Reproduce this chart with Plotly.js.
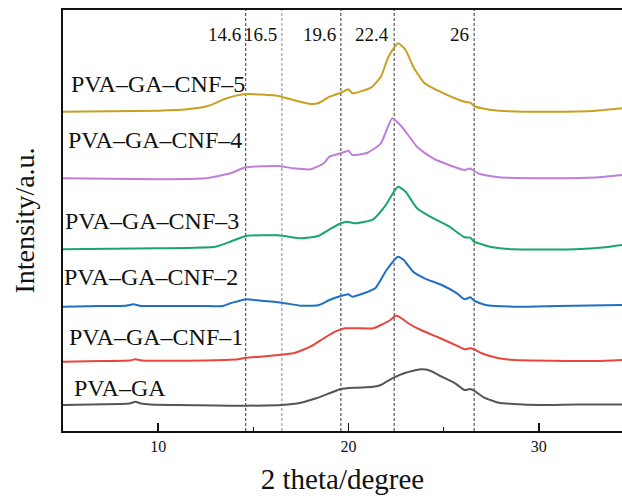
<!DOCTYPE html>
<html>
<head>
<meta charset="utf-8">
<script src="https://cdn.plot.ly/plotly-3.0.1.min.js"></script>
<style>html,body{margin:0;padding:0;background:#fff;}#chart{width:622px;height:498px;}</style>
</head>
<body>
<div id="chart"></div>
<script>
// ---- data (2 theta in degrees, intensity in arbitrary stacked units) ----
const sampleNames = ['PVA–GA', 'PVA–GA–CNF–1', 'PVA–GA–CNF–2', 'PVA–GA–CNF–3', 'PVA–GA–CNF–4', 'PVA–GA–CNF–5'];

const xPVA = [5, 6.5, 8.0, 8.5, 8.8, 9.1, 9.6, 11, 13, 14.6, 16.5, 17.5, 18.3, 19.0, 19.6, 20.4, 21.3, 21.7, 22.3, 23.0, 23.8, 24.3, 24.9, 25.6, 26.1, 26.4, 26.6, 27.1, 27.9, 28.7, 30, 32, 34.4];
const yPVA = [26, 26.5, 27, 27.5, 29.3, 27.5, 26.5, 26, 25.5, 25.3, 26, 28.3, 32.7, 37.7, 42, 43.3, 44.3, 46, 52.7, 58.3, 61.7, 60.3, 54.3, 47.7, 41, 42, 40.3, 33.7, 28.3, 27, 26, 26.5, 26.5];

const xCNF1 = [5, 7, 8.5, 8.8, 9.2, 11.5, 13.5, 14.2, 14.6, 15.5, 16.3, 17.1, 18.0, 18.7, 19.3, 19.8, 20.4, 21.3, 21.7, 22.2, 22.5, 22.8, 23.2, 23.8, 24.8, 25.8, 26.1, 26.4, 26.6, 27.0, 27.9, 28.7, 30.8, 33, 34.4];
const yCNF1 = [69.3, 70, 70.5, 71.7, 70.5, 70.3, 71, 71.7, 73.3, 74.5, 76, 77.7, 84.3, 92.7, 99.3, 102.7, 102.7, 102.7, 106, 111, 115.5, 112.5, 107, 101, 93, 84.3, 81.7, 82.7, 81.7, 77.7, 72.7, 71, 70.3, 70, 71];

const xCNF2 = [5, 7, 8.3, 8.7, 9.1, 10, 12, 13.4, 13.8, 14.2, 14.6, 15.4, 16.5, 17.5, 18.4, 19.0, 19.6, 20.0, 20.2, 20.8, 21.4, 22.0, 22.6, 22.9, 23.4, 24.0, 24.9, 25.7, 26.1, 26.4, 26.6, 27.2, 28.7, 31, 34.4];
const yCNF2 = [124.3, 125, 125.3, 126.7, 125, 125, 125, 125, 127.7, 129.7, 131.7, 130.3, 128.3, 125.3, 125.7, 131, 135, 136.7, 134.3, 137.7, 142.7, 161, 174.3, 171, 159.3, 152.7, 146, 137.7, 131.7, 133.7, 130.3, 126, 124.3, 125, 126];

const xCNF3 = [5, 10, 13.0, 13.8, 14.6, 16.3, 17.5, 18.4, 19.0, 19.6, 19.9, 20.4, 21.3, 21.9, 22.6, 23.0, 23.6, 24.3, 25.3, 26.1, 26.4, 26.6, 27.6, 28.7, 31.9, 33.5, 34.4];
const yCNF3 = [181.7, 182.7, 184.3, 189.3, 195, 195.7, 192.7, 195, 201.7, 207.7, 209.3, 207.7, 211.7, 224.3, 244.3, 239.3, 222.7, 214.3, 204.3, 193.7, 193.3, 189.3, 183.7, 181.7, 181.7, 183.7, 186];

const xCNF4 = [5, 10, 12.5, 13.8, 14.6, 16.3, 17.1, 18.0, 18.7, 19.0, 19.6, 20.0, 20.2, 21.0, 21.7, 22.3, 22.8, 23.6, 24.3, 24.6, 26.1, 26.4, 26.6, 26.9, 27.9, 30.8, 33, 34.4];
const yCNF4 = [252.7, 251.7, 252.7, 257.7, 263.7, 265, 262.7, 261.7, 267.7, 274.3, 277.7, 280.3, 276, 278.3, 287.7, 312.7, 304.3, 284.3, 274.3, 271, 261, 262.5, 260, 257, 253.7, 252.7, 253.5, 256];

const xCNF5 = [5, 10, 11.5, 12.6, 13.6, 14.6, 16.3, 17.1, 18.0, 18.4, 19.0, 19.6, 20.0, 20.2, 21.2, 21.7, 22.1, 22.6, 23.0, 23.4, 24.0, 25.0, 26.1, 26.4, 26.6, 27.0, 27.9, 30.8, 33, 34.4];
const yCNF5 = [319.3, 320.3, 321.7, 325, 332.7, 337, 335, 331, 327, 327.7, 334.3, 338.3, 341.7, 337.7, 343.7, 354.3, 374.3, 387.7, 381, 364.3, 347.7, 337.7, 329.3, 328.3, 325, 322.7, 320.3, 319.3, 320.3, 322.7];

const peakX = [14.6, 16.5, 19.6, 22.4, 26.6];
const peakLabels = ['14.6', '16.5', '19.6', '22.4', '26'];

const xTickVals = [10, 20, 30];

// ---- styling ----
const FONT = 'Liberation Serif';
const colors = ['#555555', '#e8453c', '#1f6fc4', '#1aa56a', '#c07ed8', '#c9a020'];
const xs = [xPVA, xCNF1, xCNF2, xCNF3, xCNF4, xCNF5];
const ys = [yPVA, yCNF1, yCNF2, yCNF3, yCNF4, yCNF5];

const traces = xs.map((x, i) => ({
  x: x, y: ys[i], type: 'scatter', mode: 'lines', name: sampleNames[i],
  line: {color: colors[i], width: 2, shape: 'spline', smoothing: 0.5},
  hoverinfo: 'skip'
}));

const shapes = peakX.map((p, i) => ({
  type: 'line', xref: 'x', yref: 'paper', x0: p, x1: p, y0: 0, y1: 1,
  line: {color: i === 1 ? '#888888' : '#333333', width: 1, dash: '3px,2px'},
  layer: 'below'
}));

const annotations = peakX.map((p, i) => ({
  x: p, xref: 'x', y: 0.942, yref: 'paper', text: peakLabels[i],
  showarrow: false, xanchor: 'right', yanchor: 'middle', xshift: -3,
  font: {family: FONT, size: 19, color: '#111'}
}));

// sample labels (placement on the left of each curve)
const labelY = [43, 94, 154, 210, 291, 347];
const labelShift = [9, 4, -1, -0.5, 3, 6];
sampleNames.forEach((n, i) => {
  annotations.push({
    x: 0, xref: 'paper', y: labelY[i], yref: 'y', text: n, showarrow: false,
    xanchor: 'left', yanchor: 'middle', xshift: labelShift[i],
    font: {family: FONT, size: 24, color: '#111'}
  });
});

const layout = {
  width: 622, height: 498,
  margin: {l: 63, r: 0, t: 10, b: 67},
  paper_bgcolor: '#fff', plot_bgcolor: '#fff',
  showlegend: false,
  font: {family: FONT, color: '#111'},
  xaxis: {
    range: [5, 34.37], showgrid: false, zeroline: false,
    showline: true, linecolor: '#111', linewidth: 2, mirror: true,
    ticks: 'inside', ticklen: 8, tickwidth: 1.5, tickcolor: '#111',
    tickvals: xTickVals, ticktext: xTickVals.map(String),
    minor: {ticks: 'inside', ticklen: 4, tickwidth: 1.2, tickcolor: '#111', dtick: 5, tick0: 0, showgrid: false},
    tickfont: {family: FONT, size: 16, color: '#111'},
    title: {text: '2 theta/degree', font: {family: FONT, size: 29, color: '#111'}, standoff: 14}
  },
  yaxis: {
    range: [0, 421], showgrid: false, zeroline: false,
    showline: true, linecolor: '#111', linewidth: 2, mirror: false,
    showticklabels: false, ticks: '',
    title: {text: 'Intensity/a.u.', font: {family: FONT, size: 28, color: '#111'}, standoff: 18}
  },
  shapes: shapes,
  annotations: annotations
};

Plotly.newPlot('chart', traces, layout, {displayModeBar: false, staticPlot: true});
</script>
</body>
</html>
